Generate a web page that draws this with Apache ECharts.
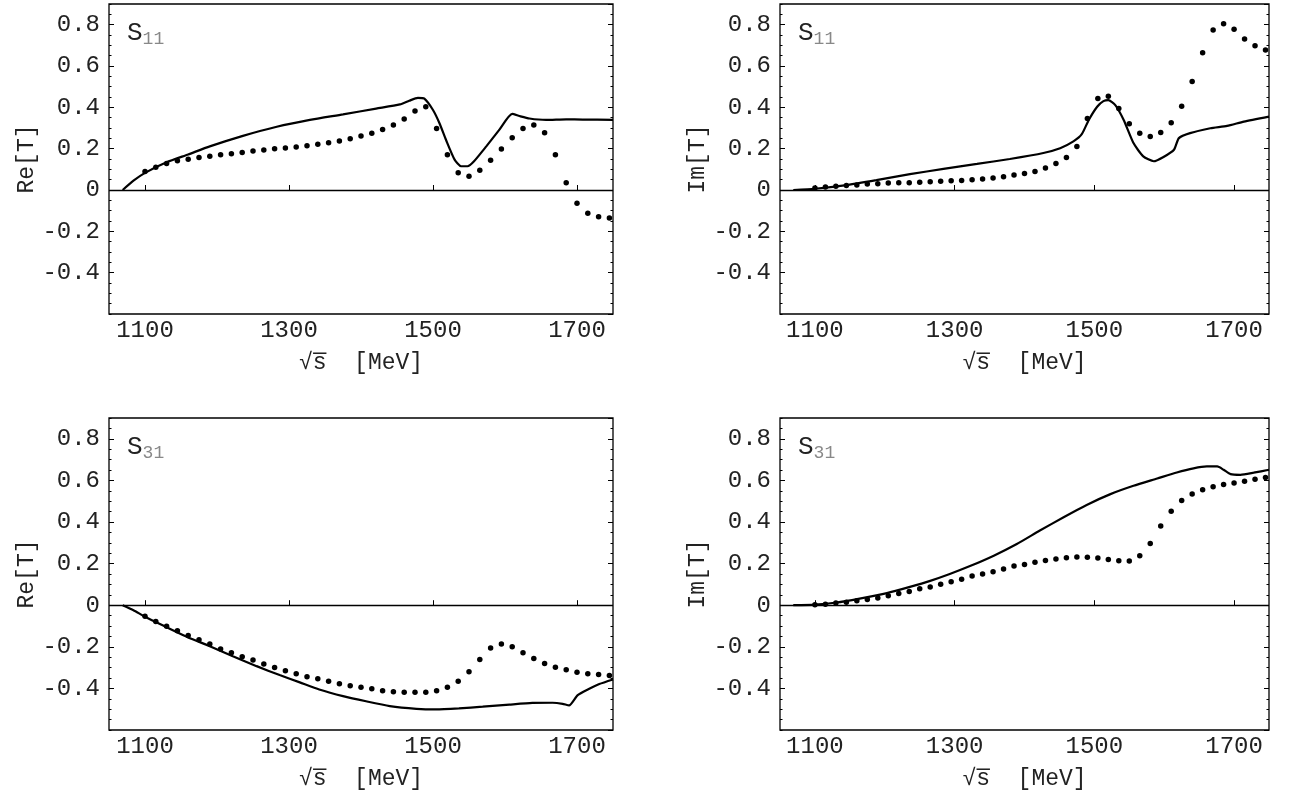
<!DOCTYPE html>
<html>
<head>
<meta charset="utf-8">
<script src="https://cdn.jsdelivr.net/npm/echarts@6/dist/echarts.min.js"></script>
<style>
    html, body { margin: 0; padding: 0; background: #fff; }
    #chart { width: 1298px; height: 800px; }
</style>
</head>
<body>
<div id="chart"></div>
<script>
    // energies of the data points (MeV)
    var dotEnergy = [1100, 1115, 1130, 1145, 1160, 1175, 1190, 1205, 1220, 1235, 1250, 1265, 1280, 1295, 1310,
        1325, 1340, 1355, 1370, 1385, 1400, 1415, 1430, 1445, 1460, 1475, 1490, 1505, 1520, 1535, 1550,
        1565, 1580, 1595, 1610, 1625, 1640, 1655, 1670, 1685, 1700, 1715, 1730, 1745];

    var reS11Dots = [0.090, 0.110, 0.128, 0.141, 0.149, 0.157, 0.163, 0.170, 0.176, 0.182, 0.189, 0.194, 0.200, 0.203, 0.208,
        0.214, 0.221, 0.229, 0.237, 0.248, 0.261, 0.275, 0.293, 0.315, 0.344, 0.382, 0.403, 0.298, 0.170, 0.083, 0.067,
        0.096, 0.144, 0.198, 0.253, 0.298, 0.315, 0.277, 0.170, 0.035, -0.064, -0.112, -0.130, -0.136];
    var imS11Dots = [0.010, 0.014, 0.018, 0.022, 0.024, 0.029, 0.030, 0.034, 0.035, 0.035, 0.037, 0.040, 0.042, 0.045, 0.046,
        0.050, 0.053, 0.058, 0.064, 0.072, 0.080, 0.090, 0.107, 0.128, 0.157, 0.210, 0.346, 0.443, 0.454, 0.394, 0.320,
        0.275, 0.259, 0.278, 0.325, 0.405, 0.525, 0.664, 0.774, 0.805, 0.778, 0.731, 0.698, 0.678];
    var reS31Dots = [-0.053, -0.078, -0.101, -0.123, -0.146, -0.166, -0.187, -0.210, -0.229, -0.248, -0.264, -0.283, -0.299, -0.315, -0.330,
        -0.344, -0.354, -0.366, -0.378, -0.387, -0.395, -0.402, -0.411, -0.416, -0.419, -0.419, -0.418, -0.411, -0.395, -0.366, -0.320,
        -0.261, -0.206, -0.186, -0.200, -0.229, -0.256, -0.280, -0.298, -0.310, -0.322, -0.330, -0.333, -0.338];
    var imS31Dots = [0.002, 0.005, 0.011, 0.014, 0.021, 0.027, 0.035, 0.045, 0.056, 0.066, 0.079, 0.088, 0.101, 0.113, 0.125,
        0.140, 0.150, 0.161, 0.174, 0.188, 0.196, 0.206, 0.215, 0.222, 0.228, 0.232, 0.230, 0.227, 0.220, 0.214, 0.212,
        0.238, 0.297, 0.381, 0.452, 0.503, 0.535, 0.555, 0.569, 0.580, 0.588, 0.596, 0.606, 0.614];

    // model curves
    var reS11LineX = [1069, 1084, 1100, 1130, 1160, 1190, 1236, 1283, 1329, 1375, 1421, 1454, 1467, 1479, 1488, 1500,
        1509, 1518, 1530, 1539, 1548, 1557, 1574, 1592, 1610, 1620, 1634, 1657, 1685, 1708, 1750];
    var reS11LineY = [0, 0.045, 0.083, 0.134, 0.172, 0.211, 0.262, 0.306, 0.339, 0.366, 0.394, 0.414, 0.432, 0.446, 0.442, 0.387,
        0.323, 0.243, 0.147, 0.115, 0.115, 0.139, 0.211, 0.291, 0.368, 0.358, 0.346, 0.339, 0.342, 0.341, 0.339];

    var imS11LineX = [1069, 1100, 1145, 1188, 1236, 1284, 1332, 1379, 1427, 1451, 1470, 1482, 1492, 1504, 1513, 1520,
        1530, 1542, 1556, 1570, 1585, 1599, 1614, 1621, 1637, 1666, 1690, 1714, 1750];
    var imS11LineY = [0, 0.006, 0.024, 0.048, 0.077, 0.102, 0.126, 0.150, 0.179, 0.202, 0.235, 0.270, 0.339, 0.403, 0.430, 0.435,
        0.411, 0.339, 0.227, 0.163, 0.139, 0.160, 0.195, 0.251, 0.275, 0.299, 0.310, 0.331, 0.355];

    var reS31LineX = [1069, 1084, 1100, 1130, 1160, 1190, 1222, 1255, 1287, 1315, 1342, 1375, 1407, 1440, 1477, 1504,
        1536, 1569, 1606, 1638, 1666, 1680, 1689, 1701, 1715, 1731, 1750];
    var reS31LineY = [0, -0.024, -0.056, -0.106, -0.155, -0.197, -0.245, -0.293, -0.336, -0.371, -0.405, -0.437, -0.462, -0.485, -0.498, -0.501,
        -0.496, -0.488, -0.478, -0.470, -0.469, -0.474, -0.482, -0.432, -0.405, -0.379, -0.357];

    var imS31LineX = [1069, 1100, 1131, 1164, 1203, 1236, 1265, 1293, 1322, 1356, 1389, 1422, 1456, 1489, 1523, 1556,
        1590, 1618, 1642, 1661, 1676, 1685, 1695, 1709, 1728, 1750];
    var imS31LineY = [0, 0.003, 0.013, 0.032, 0.058, 0.088, 0.117, 0.150, 0.188, 0.238, 0.294, 0.359, 0.423, 0.482, 0.534, 0.574,
        0.609, 0.638, 0.658, 0.667, 0.667, 0.651, 0.630, 0.627, 0.637, 0.651];

    var xTicks = [1100, 1300, 1500, 1700];

    var panels = [
        { name: 'Re[T]', wave: '11', dots: reS11Dots, lx: reS11LineX, ly: reS11LineY, grid: { left: 109, top: 4, width: 504, height: 310 } },
        { name: 'Im[T]', wave: '11', dots: imS11Dots, lx: imS11LineX, ly: imS11LineY, grid: { left: 780, top: 4, width: 489, height: 310 } },
        { name: 'Re[T]', wave: '31', dots: reS31Dots, lx: reS31LineX, ly: reS31LineY, grid: { left: 109, top: 418, width: 504, height: 312 } },
        { name: 'Im[T]', wave: '31', dots: imS31Dots, lx: imS31LineX, ly: imS31LineY, grid: { left: 780, top: 418, width: 489, height: 312 } }
    ];

    var FONT = '"Liberation Mono", "DejaVu Sans Mono", monospace';

    function zip(a, b) {
        var out = [];
        for (var i = 0; i < a.length; i++) {
            out.push([a[i], b[i]]);
        }
        return out;
    }

    function yAxisFor(gi, position, minor, withLabels) {
        return {
            type: 'value',
            gridIndex: gi,
            position: position,
            min: -0.6,
            max: 0.9,
            interval: minor ? 0.05 : 0.2,
            name: (withLabels ? panels[gi].name : ''),
            nameLocation: 'middle',
            nameGap: 70,
            nameRotate: 90,
            nameTextStyle: { fontFamily: FONT, fontSize: 23, color: '#222' },
            axisLine: { show: false },
            axisTick: { show: true, inside: true, length: minor ? 2.5 : 5, lineStyle: { color: '#000', width: 1 } },
            axisLabel: {
                show: withLabels,
                fontFamily: FONT,
                fontSize: 24,
                color: '#222',
                margin: 9,
                showMinLabel: false,
                showMaxLabel: false
            },
            splitLine: { show: false }
        };
    }

    var option = {
        backgroundColor: '#fff',
        animation: false,
        title: [],
        grid: [],
        xAxis: [],
        yAxis: [],
        series: []
    };

    panels.forEach(function (p, gi) {
        option.grid.push({
            left: p.grid.left, top: p.grid.top, width: p.grid.width, height: p.grid.height,
            show: true, borderColor: '#000', borderWidth: 1.3, backgroundColor: '#fff'
        });
        option.title.push({
            left: p.grid.left + 13,
            top: p.grid.top + 9,
            text: '{s|S}{n|' + p.wave + '}',
            textStyle: {
                fontWeight: 'normal',
                rich: {
                    s: { fontFamily: FONT, fontSize: 26, fontWeight: 'normal', color: '#222' },
                    n: { fontFamily: FONT, fontSize: 18, fontWeight: 'normal', color: '#888', padding: [12, 0, 0, 0] }
                }
            }
        });
        option.xAxis.push({
            type: 'value',
            gridIndex: gi,
            min: 1050,
            max: 1750,
            name: '√s̅  [MeV]',
            nameLocation: 'middle',
            nameGap: 37,
            nameTextStyle: { fontFamily: FONT, fontSize: 23, color: '#222' },
            axisLine: { show: false },
            axisTick: { show: true, inside: true, length: 5, customValues: xTicks, lineStyle: { color: '#000' } },
            axisLabel: {
                fontFamily: FONT, fontSize: 24, color: '#222', margin: 5, customValues: xTicks,
                formatter: function (v) { return String(v); }
            },
            splitLine: { show: false }
        });
        var base = option.yAxis.length;
        option.yAxis.push(yAxisFor(gi, 'left', false, true));
        option.yAxis.push(yAxisFor(gi, 'left', true, false));
        option.yAxis.push(yAxisFor(gi, 'right', false, false));
        option.yAxis.push(yAxisFor(gi, 'right', true, false));

        option.series.push({
            type: 'line',
            xAxisIndex: gi,
            yAxisIndex: base,
            data: zip(p.lx, p.ly),
            showSymbol: false,
            smooth: 0.2,
            lineStyle: { color: '#000', width: 2.2 },
            markLine: {
                silent: true,
                symbol: 'none',
                label: { show: false },
                lineStyle: { color: '#000', width: 1.4, type: 'solid' },
                data: [{ yAxis: 0 }]
            }
        });
        option.series.push({
            type: 'scatter',
            xAxisIndex: gi,
            yAxisIndex: base,
            data: zip(dotEnergy, p.dots),
            symbolSize: 5.5,
            itemStyle: { color: '#000', opacity: 1 }
        });
    });

    var chart = echarts.init(document.getElementById('chart'));
    chart.setOption(option);
</script>
</body>
</html>
